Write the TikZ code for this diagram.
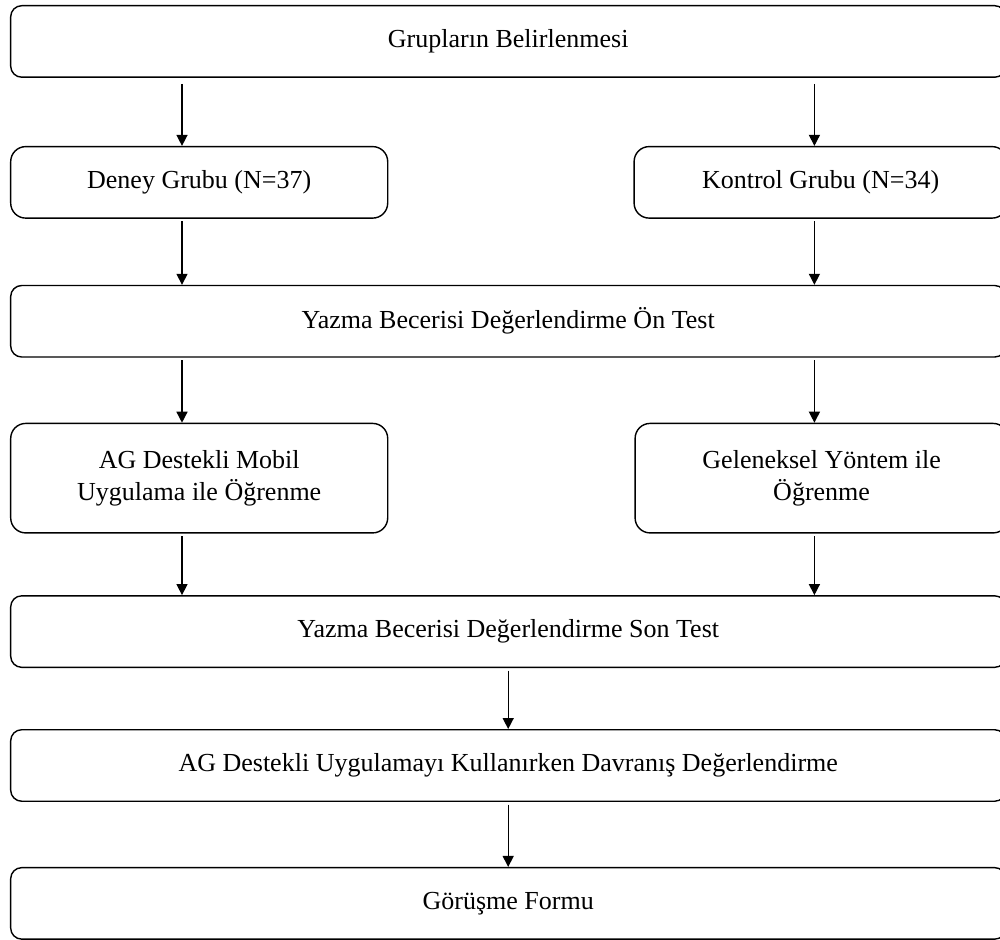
\documentclass[tikz,border=0pt]{standalone}
\usepackage{fontspec}
\setmainfont{Liberation Serif}
\usepackage{tikz}
\usetikzlibrary{arrows.meta,positioning,calc}

\begin{document}
\begin{tikzpicture}[
    box/.style={rectangle, draw, line width=0.8pt, rounded corners=0.22cm,
                minimum height=1.43cm, align=center,
                font=\fontsize{14.8}{18.2}\selectfont},
    widebox/.style={box, minimum width=19.9cm},
    leftbox/.style={box, minimum width=7.54cm, rounded corners=0.3cm},
    rightbox/.style={box, minimum width=7.46cm, rounded corners=0.3cm},
    tallbox/.style={minimum height=2.19cm},
    arrow/.style={-{Triangle[length=2.2mm,width=2.2mm]}, line width=0.8pt,
                  shorten <=1.5pt},
]
\useasboundingbox (0,0) rectangle (20,-18.8);

% Groups
\node[widebox, anchor=north west] (grup) at (0.2,-0.1) {Grupların Belirlenmesi};
\node[leftbox, below=1.36cm of grup.south west, anchor=north west] (deney)
    {Deney Grubu (N=37)};
\node[rightbox, right=4.9cm of deney] (kontrol) {Kontrol Grubu (N=34)};

% Pre-test
\node[widebox, below=1.32cm of deney.south west, anchor=north west] (ontest)
    {Yazma Becerisi Değerlendirme Ön Test};

% Learning
\node[leftbox, tallbox, below=1.3cm of ontest.south west, anchor=north west] (agmobil)
    {AG Destekli Mobil\\Uygulama ile Öğrenme};
\node[rightbox, tallbox, right=4.92cm of agmobil] (geleneksel)
    {Geleneksel Yöntem ile\\Öğrenme};

% Post-test and the rest
\node[widebox, below=1.23cm of agmobil.south west, anchor=north west] (sontest)
    {Yazma Becerisi Değerlendirme Son Test};
\node[widebox, below=1.22cm of sontest] (davranis)
    {AG Destekli Uygulamayı Kullanırken Davranış Değerlendirme};
\node[widebox, below=1.3cm of davranis] (gorusme) {Görüşme Formu};

% Arrow columns
\coordinate (lx) at ([xshift=3.44cm]deney.north west);
\coordinate (rx) at ([xshift=3.62cm]kontrol.north west);

% Arrows
\draw[arrow, shorten <=3.4pt] (grup.south -| lx) -- (deney.north -| lx);
\draw[arrow, shorten <=3.4pt] (grup.south -| rx) -- (kontrol.north -| rx);
\draw[arrow] (deney.south -| lx) -- (ontest.north -| lx);
\draw[arrow] (kontrol.south -| rx) -- (ontest.north -| rx);
\draw[arrow] (ontest.south -| lx) -- (agmobil.north -| lx);
\draw[arrow] (ontest.south -| rx) -- (geleneksel.north -| rx);
\draw[arrow] (agmobil.south -| lx) -- (sontest.north -| lx);
\draw[arrow] (geleneksel.south -| rx) -- (sontest.north -| rx);
\draw[arrow] (sontest) -- (davranis);
\draw[arrow] (davranis) -- (gorusme);

\end{tikzpicture}
\end{document}
